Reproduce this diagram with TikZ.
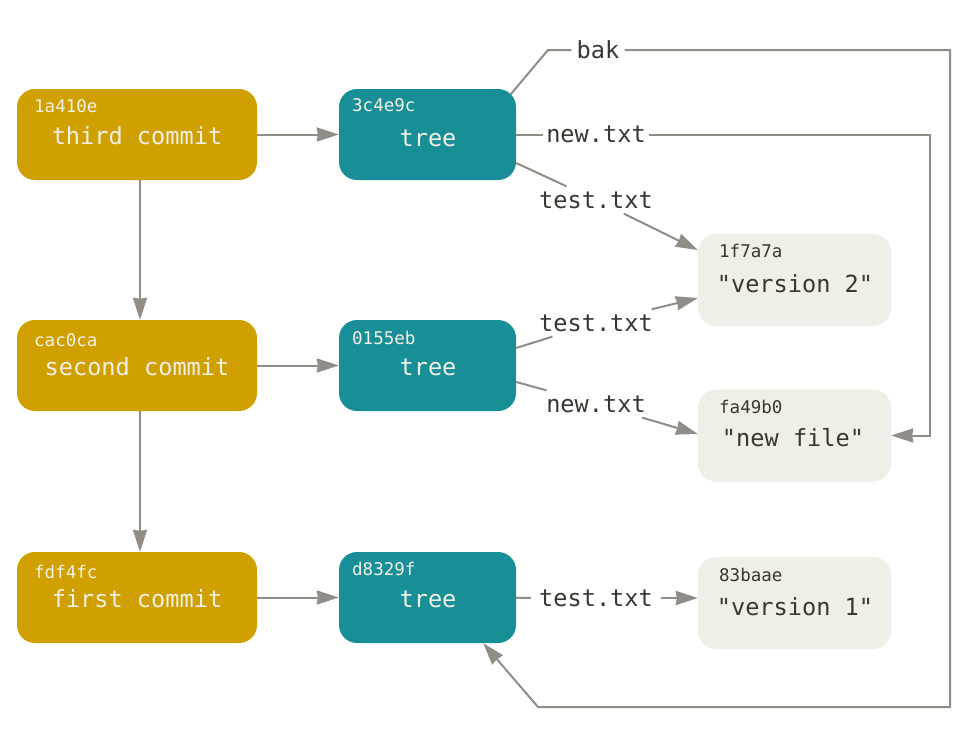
\documentclass[tikz,border=0pt]{standalone}
\usepackage{fontspec}
\setmonofont{DejaVu Sans Mono}
\usetikzlibrary{arrows.meta,calc}
\definecolor{commitc}{RGB}{207,160,0}
\definecolor{treec}{RGB}{24,143,151}
\definecolor{blobc}{RGB}{239,238,231}
\definecolor{linec}{RGB}{145,140,134}
\definecolor{textc}{RGB}{58,54,50}
\definecolor{lightc}{RGB}{243,240,230}
\tikzset{
  box/.style={rounded corners=18pt, inner sep=0pt, draw=none, minimum height=91pt},
  commitbox/.style={box, fill=commitc, minimum width=240pt},
  treebox/.style={box, fill=treec, minimum width=177pt},
  blobbox/.style={box, fill=blobc, minimum width=193pt, minimum height=92pt},
  hash/.style={font=\fontsize{17.5}{20}\selectfont\ttfamily, anchor=west, inner sep=0pt},
  maintext/.style={font=\fontsize{23.6}{28}\selectfont\ttfamily, inner sep=0pt},
  lbl/.style={font=\fontsize{23.6}{28}\selectfont\ttfamily, text=textc, inner sep=5pt},
  conn/.style={draw=linec, line width=2pt},
  arr/.style={conn, -{Triangle[length=22pt,width=14pt,inset=1pt]}},
}
\begin{document}
\begin{tikzpicture}[x=1pt,y=-1pt]
\useasboundingbox[fill=white] (0,0) rectangle (974,731);
% commits
\node[commitbox] (c3) at (137,134.5) {};
\node[commitbox] (c2) at (137,365.5) {};
\node[commitbox] (c1) at (137,597.5) {};
\node[hash, text=lightc] (c3h) at (34,106) {1a410e};
\node[maintext, text=lightc] (c3t) at (137,136) {third commit};
\node[hash, text=lightc] (c2h) at (34,340) {cac0ca};
\node[maintext, text=lightc] (c2t) at (137,367) {second commit};
\node[hash, text=lightc] (c1h) at (34,572) {fdf4fc};
\node[maintext, text=lightc] (c1t) at (137,599) {first commit};
% trees
\node[treebox] (t3) at (427.5,134.5) {};
\node[treebox] (t2) at (427.5,365.5) {};
\node[treebox] (t1) at (427.5,597.5) {};
\node[hash, text=lightc] (t3h) at (352,105) {3c4e9c};
\node[maintext, text=lightc] (t3t) at (428,138) {tree};
\node[hash, text=lightc] (t2h) at (352,338) {0155eb};
\node[maintext, text=lightc] (t2t) at (428,367) {tree};
\node[hash, text=lightc] (t1h) at (352,569) {d8329f};
\node[maintext, text=lightc] (t1t) at (428,599) {tree};
% blobs
\node[blobbox] (b2) at (794.5,280) {};
\node[blobbox] (bn) at (794.5,435.5) {};
\node[blobbox] (b1) at (794.5,603) {};
\node[hash, text=textc] (b2h) at (719,251) {1f7a7a};
\node[maintext, text=textc] (b2t) at (795,284) {"version 2"};
\node[hash, text=textc] (bnh) at (719,407) {fa49b0};
\node[maintext, text=textc] (bnt) at (793,438) {"new file"};
\node[hash, text=textc] (b1h) at (719,575) {83baae};
\node[maintext, text=textc] (b1t) at (795,607) {"version 1"};
% commit arrows
\draw[arr] (c3) -- (t3);
\draw[arr] (c2) -- (t2);
\draw[arr] (c1) -- (t1);
\draw[arr] ($(c3.south)+(3,0)$) -- ($(c2.north)+(3,0)$);
\draw[arr] ($(c2.south)+(3,0)$) -- ($(c1.north)+(3,0)$);
% labels
\node[lbl] (bak) at (598,50) {bak};
\node[lbl, inner sep=3pt] (n3) at (596,134.5) {new.txt};
\node[lbl] (tt3) at (596,200) {test.txt};
\node[lbl] (tt2) at (596,323) {test.txt};
\node[lbl] (nn2) at (596,404) {new.txt};
\node[lbl, inner sep=8pt] (tt1) at (596,598) {test.txt};
% helper coordinates
\coordinate (t3bak) at ($(t3.north east)+(-5.5,5.5)$);
\coordinate (bk1) at (548,50);
\coordinate (bk2) at (950,50);
\coordinate (bk3) at (950,707);
\coordinate (bk4) at (538,707);
\coordinate (t1in) at ($(t1.south east)+(-33,0)$);
\coordinate (nw1) at (930,134.5);
\coordinate (nw2) at (930,435.5);
\coordinate (t3s) at ($(t3.east)+(0,28.5)$);
\coordinate (b2a) at ($(b2.west)+(0,-30)$);
\coordinate (t2a) at ($(t2.east)+(0,-17.5)$);
\coordinate (b2b) at ($(b2.west)+(0,18)$);
\coordinate (t2b) at ($(t2.east)+(0,16.5)$);
\coordinate (bna) at ($(bn.west)+(0,-1.5)$);
\coordinate (b1a) at ($(b1.west)+(0,-5)$);
% tree 3 entries
\draw[conn] (t3bak) -- (bk1) -- (bak);
\draw[arr] (bak) -- (bk2) -- (bk3) -- (bk4) -- (t1in);
\draw[conn] (t3) -- (n3);
\draw[arr] (n3) -- (nw1) -- (nw2) -- (bn);
\draw[conn] (t3s) -- (tt3);
\draw[arr] (tt3) -- (b2a);
% tree 2 entries
\draw[conn] (t2a) -- (tt2);
\draw[arr] (tt2) -- (b2b);
\draw[conn] (t2b) -- (nn2);
\draw[arr] (nn2) -- (bna);
% tree 1 entries
\draw[conn] (t1) -- (tt1);
\draw[arr] (tt1) -- (b1a);
\end{tikzpicture}
\end{document}
